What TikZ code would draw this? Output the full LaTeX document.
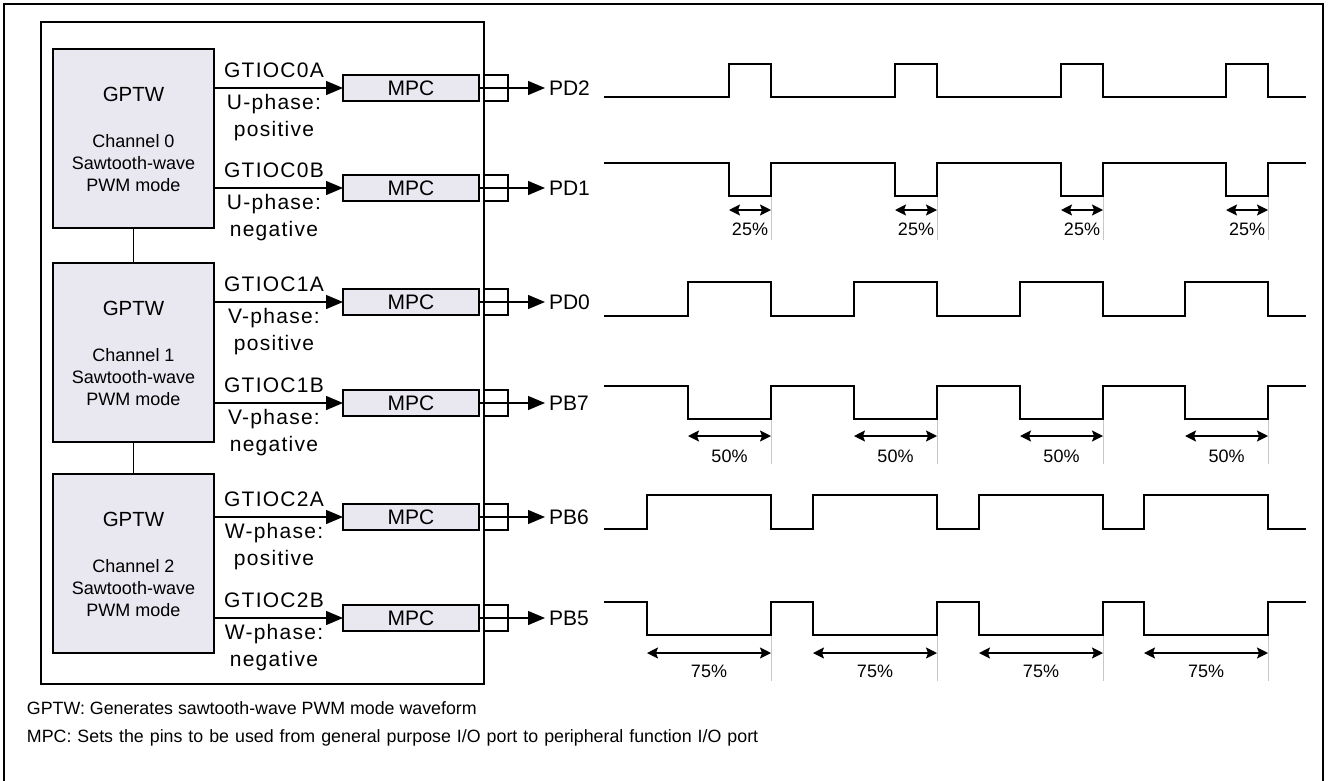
\documentclass[tikz,border=0pt]{standalone}
\usepackage{fontspec}
\setmainfont{Liberation Sans}
\newfontfamily\lspfont{Liberation Sans}[LetterSpace=6]
\usetikzlibrary{arrows.meta,calc}
\definecolor{boxfill}{HTML}{E9E7F0}
\definecolor{guidegray}{HTML}{C8C8C8}
\begin{document}
\begin{tikzpicture}[x=1pt,y=-1pt,
  every node/.style={inner sep=0pt, outer sep=0pt},
  gptw/.style={draw, fill=boxfill, line width=1.2pt, minimum width=161pt, minimum height=179pt, anchor=north west},
  gtitle/.style={font=\fontsize{20.5}{24}\selectfont},
  gtext/.style={font=\fontsize{18}{21}\selectfont},
  lab/.style={font=\lspfont\fontsize{21}{24}\selectfont, anchor=base},
  mpcbox/.style={draw, fill=boxfill, line width=1.2pt, minimum width=136pt, minimum height=26pt, font=\fontsize{21}{24}\selectfont},
  padbox/.style={draw, line width=1.2pt, minimum width=24pt, minimum height=26pt},
  pin/.style={font=\fontsize{21}{24}\selectfont, anchor=west, inner xsep=4pt},
  conn/.style={line width=1.3pt, -{Triangle[length=17pt,width=14pt]}},
  wave/.style={line width=1.6pt, line join=miter},
  dimarrow/.style={line width=1.5pt, {Stealth[length=11pt,width=11pt,inset=2pt]}-{Stealth[length=11pt,width=11pt,inset=2pt]}},
  guide/.style={draw=guidegray, line width=1pt},
  pct/.style={font=\fontsize{18}{21}\selectfont},
  legend/.style={font=\fontsize{17.8}{20}\selectfont, anchor=base west}
]
\useasboundingbox (0,0) rectangle (1328,780);
\fill[white] (0,0) rectangle (1328,780);

% outer frame (bottom edge lies outside the picture)
\draw[line width=1.8pt] (4,790) -- (4,4) -- (1323,4) -- (1323,790);

% system box
\node[draw, line width=1.2pt, minimum width=443pt, minimum height=662pt, anchor=north west] (sys) at (41,22) {};

% GPTW boxes
\foreach \c/\t in {0/49,1/263,2/474}{
  \node[gptw] (g\c) at (53,\t) {};
  \node[gtitle] at ($(g\c.north)+(0,45)$) {GPTW};
  \node[gtext] at ($(g\c.north)+(0,92)$) {Channel \c};
  \node[gtext] at ($(g\c.north)+(0,114)$) {Sawtooth-wave};
  \node[gtext] at ($(g\c.north)+(0,136)$) {PWM mode};
}
\draw[line width=1.2pt] (g0.south) -- (g1.north);
\draw[line width=1.2pt] (g1.south) -- (g2.north);

% output rows
\foreach \i/\g/\y/\sig/\ph/\pol/\pinname in {
  1/0/88/GTIOC0A/U/positive/PD2,
  2/0/188/GTIOC0B/U/negative/PD1,
  3/1/302/GTIOC1A/V/positive/PD0,
  4/1/403/GTIOC1B/V/negative/PB7,
  5/2/517/GTIOC2A/W/positive/PB6,
  6/2/618/GTIOC2B/W/negative/PB5}{
  \node[mpcbox] (m\i) at (411,\y) {MPC};
  \node[padbox] (p\i) at (496,\y) {};
  \node[pin] (t\i) at (545,\y) {\pinname};
  \draw[conn] (g\g.east |- m\i.west) -- (m\i.west);
  \draw[conn] (m\i.east) -- (t\i.west);
  \node[lab] at (274,\y-11) {\sig};
  \node[lab] at (274,\y+21) {\ph-phase:};
  \node[lab] at (274,\y+48) {\pol};
}

% guide lines and duty-cycle dimensions
\foreach \b in {771,937,1103,1268}{
  \draw[guide] (\b,196) -- (\b,240);
  \draw[guide] (\b,419) -- (\b,464);
  \draw[guide] (\b,635) -- (\b,681);
  \draw[dimarrow] (\b-42,210) -- (\b,210);
  \node[pct] at (\b-21,229) {25\%};
  \draw[dimarrow] (\b-83,436) -- (\b,436);
  \node[pct] at (\b-41.5,456) {50\%};
  \draw[dimarrow] (\b-124,653) -- (\b,653);
  \node[pct] at (\b-62,671) {75\%};
}

% waveforms
\draw[wave] (604,97) -| (729,64) -| (771,97) -| (895,64) -| (937,97) -| (1061,64) -| (1103,97) -| (1226,64) -| (1268,97) -- (1306,97);
\draw[wave] (604,163) -| (729,196) -| (771,163) -| (895,196) -| (937,163) -| (1061,196) -| (1103,163) -| (1226,196) -| (1268,163) -- (1306,163);
\draw[wave] (604,316) -| (688,282) -| (771,316) -| (854,282) -| (937,316) -| (1020,282) -| (1103,316) -| (1185,282) -| (1268,316) -- (1306,316);
\draw[wave] (604,386) -| (688,419) -| (771,386) -| (854,419) -| (937,386) -| (1020,419) -| (1103,386) -| (1185,419) -| (1268,386) -- (1306,386);
\draw[wave] (604,529) -| (647,495) -| (771,529) -| (813,495) -| (937,529) -| (979,495) -| (1103,529) -| (1144,495) -| (1268,529) -- (1306,529);
\draw[wave] (604,602) -| (647,635) -| (771,602) -| (813,635) -| (937,602) -| (979,635) -| (1103,602) -| (1144,635) -| (1268,602) -- (1306,602);

% legend
\node[legend] (leg1) at (27,714) {GPTW: Generates sawtooth-wave PWM mode waveform};
\node[legend] (leg2) at (27,742) {\spaceskip=6pt\relax MPC: Sets the pins to be used from general purpose I/O port to peripheral function I/O port};
\end{tikzpicture}
\end{document}
